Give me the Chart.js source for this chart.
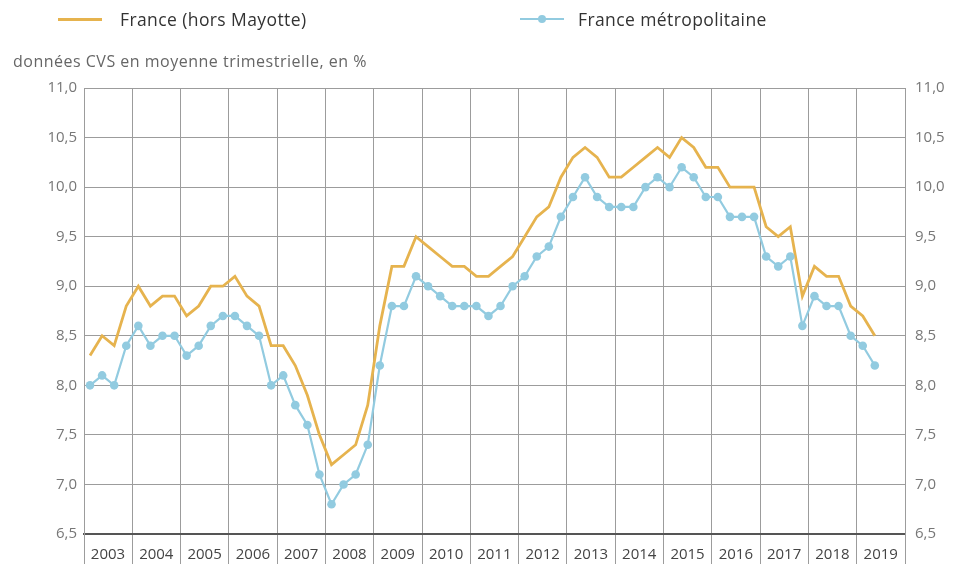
<!DOCTYPE html>
<html>
<head>
<meta charset="utf-8">
<script src="https://cdn.jsdelivr.net/npm/chart.js@4.4.1/dist/chart.umd.min.js"></script>
<style>
  html, body { margin: 0; padding: 0; background: #fff; }
  #wrap { position: relative; width: 963px; height: 564px; font-family: "Open Sans", sans-serif; }
  #c { position: absolute; left: 0; top: 0; }
  .leg { position: absolute; top: 7px; height: 24px; line-height: 24px; font-size: 17.5px; color: #333; letter-spacing: 0.4px; }
  .sw { position: absolute; }
  #sub { position: absolute; left: 13px; top: 50px; font-size: 16px; color: #666; letter-spacing: 0.5px; }
</style>
</head>
<body>
<div id="wrap">
  <canvas id="c" width="963" height="564"></canvas>
  <div class="sw" style="left:58px;top:18px;width:44px;height:3px;background:#E6B34E;"></div>
  <div class="leg" style="left:120px;">France (hors Mayotte)</div>
  <div class="sw" style="left:520px;top:18px;width:44px;height:2px;background:#92CBE0;"></div>
  <div class="sw" style="left:538px;top:15px;width:8px;height:8px;border-radius:50%;background:#92CBE0;"></div>
  <div class="leg" style="left:578px;">France métropolitaine</div>
  <div id="sub">données CVS en moyenne trimestrielle, en %</div>
</div>
<script>
// Years shown on the axis (one column per year, four quarters each)
const years = ['2003','2004','2005','2006','2007','2008','2009','2010','2011','2012','2013','2014','2015','2016','2017','2018','2019'];
// Quarter labels (T1..T4), from 2003 T1 to 2019 T2
const quarters = [];
years.forEach(y => ['T1','T2','T3','T4'].forEach(q => quarters.push(y + q)));

// Unemployment rate, France (hors Mayotte), %
const franceHorsMayotte = [
  8.3, 8.5, 8.4, 8.8,
  9.0, 8.8, 8.9, 8.9,
  8.7, 8.8, 9.0, 9.0,
  9.1, 8.9, 8.8, 8.4,
  8.4, 8.2, 7.9, 7.5,
  7.2, 7.3, 7.4, 7.8,
  8.6, 9.2, 9.2, 9.5,
  9.4, 9.3, 9.2, 9.2,
  9.1, 9.1, 9.2, 9.3,
  9.5, 9.7, 9.8, 10.1,
  10.3, 10.4, 10.3, 10.1,
  10.1, 10.2, 10.3, 10.4,
  10.3, 10.5, 10.4, 10.2,
  10.2, 10.0, 10.0, 10.0,
  9.6, 9.5, 9.6, 8.9,
  9.2, 9.1, 9.1, 8.8,
  8.7, 8.5
];
// Unemployment rate, France métropolitaine, %
const franceMetro = [
  8.0, 8.1, 8.0, 8.4,
  8.6, 8.4, 8.5, 8.5,
  8.3, 8.4, 8.6, 8.7,
  8.7, 8.6, 8.5, 8.0,
  8.1, 7.8, 7.6, 7.1,
  6.8, 7.0, 7.1, 7.4,
  8.2, 8.8, 8.8, 9.1,
  9.0, 8.9, 8.8, 8.8,
  8.8, 8.7, 8.8, 9.0,
  9.1, 9.3, 9.4, 9.7,
  9.9, 10.1, 9.9, 9.8,
  9.8, 9.8, 10.0, 10.1,
  10.0, 10.2, 10.1, 9.9,
  9.9, 9.7, 9.7, 9.7,
  9.3, 9.2, 9.3, 8.6,
  8.9, 8.8, 8.8, 8.5,
  8.4, 8.2
];
// Y-axis ticks
const yTicks = [6.5, 7.0, 7.5, 8.0, 8.5, 9.0, 9.5, 10.0, 10.5, 11.0];

const firstYear = parseInt(years[0], 10);
const lastYear = parseInt(years[years.length - 1], 10) + 1;
// place each quarter at the middle of its quarter slot
const toPoints = arr => arr.map((v, i) => ({ x: firstYear + (i + 0.5) / 4, y: v, q: quarters[i] }));

const fmt = v => Number(v).toFixed(1).replace('.', ',');
const gridCol = '#9c9c9c';

new Chart(document.getElementById('c'), {
  type: 'line',
  data: {
    datasets: [
      {
        label: 'France métropolitaine',
        data: toPoints(franceMetro),
        borderColor: '#92CBE0',
        backgroundColor: '#92CBE0',
        borderWidth: 2.2,
        pointRadius: 4.3,
        pointBorderWidth: 0,
        pointBackgroundColor: '#92CBE0',
        tension: 0,
        order: 1
      },
      {
        label: 'France (hors Mayotte)',
        data: toPoints(franceHorsMayotte),
        borderColor: '#E6B34E',
        backgroundColor: '#E6B34E',
        borderWidth: 2.8,
        pointRadius: 0,
        tension: 0,
        order: 2
      }
    ]
  },
  options: {
    responsive: false,
    animation: false,
    layout: { padding: { top: 88, left: 0, right: 0, bottom: 0 } },
    plugins: { legend: { display: false }, title: { display: false }, tooltip: { enabled: false } },
    scales: {
      x: {
        type: 'linear',
        min: firstYear,
        max: lastYear,
        afterBuildTicks: s => { s.ticks = []; for (let y = firstYear; y <= lastYear; y++) s.ticks.push({ value: y }); },
        afterFit: s => { s.height = 30; },
        ticks: {
          autoSkip: false,
          maxRotation: 0,
          labelOffset: 24,
          padding: -18,
          color: '#444',
          font: { family: 'Open Sans', size: 15 },
          callback: v => (v < lastYear ? String(v) : '')
        },
        grid: { color: gridCol, lineWidth: 1, tickLength: 30, drawTicks: true },
        border: { color: '#555', width: 2 }
      },
      y: {
        type: 'linear',
        position: 'left',
        min: yTicks[0],
        max: yTicks[yTicks.length - 1],
        afterBuildTicks: s => { s.ticks = yTicks.map(v => ({ value: v })); },
        afterFit: s => { s.width = 84; },
        ticks: { color: '#777', padding: 7, font: { family: 'Open Sans', size: 15 }, callback: fmt },
        grid: { color: gridCol, lineWidth: 1, drawTicks: false },
        border: { color: gridCol, width: 1 }
      },
      y2: {
        type: 'linear',
        position: 'right',
        min: yTicks[0],
        max: yTicks[yTicks.length - 1],
        afterBuildTicks: s => { s.ticks = yTicks.map(v => ({ value: v })); },
        afterFit: s => { s.width = 58; },
        ticks: { color: '#777', padding: 10, font: { family: 'Open Sans', size: 15 }, callback: fmt },
        grid: { display: false, drawTicks: false },
        border: { color: gridCol, width: 1 }
      }
    }
  }
});
</script>
</body>
</html>
